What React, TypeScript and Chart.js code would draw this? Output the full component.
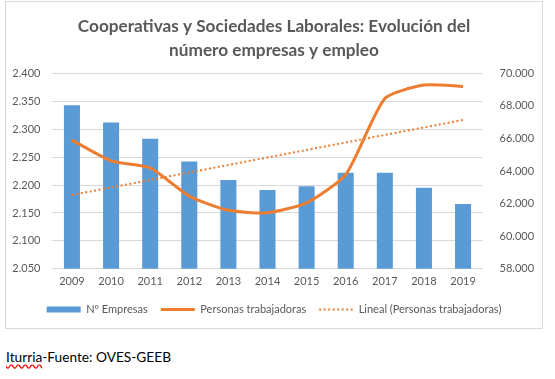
import React, { useEffect, useRef } from "react";
import { Chart, registerables } from "chart.js";

Chart.register(...registerables);

const years = ["2009", "2010", "2011", "2012", "2013", "2014", "2015", "2016", "2017", "2018", "2019"];
const empresas = [2343, 2312, 2283, 2242, 2209, 2191, 2198, 2222, 2222, 2195, 2166];
const personas = [65900, 64630, 64195, 62460, 61590, 61445, 62050, 63780, 68455, 69280, 69200];
// Excel linear trendline endpoints
const tendencia = [62530, null, null, null, null, null, null, null, null, null, 67140];

const titleLines = ["Cooperativas y Sociedades Laborales: Evolución del", "número empresas y empleo"];
const seriesNames = ["Nº Empresas", "Personas trabajadoras", "Lineal (Personas trabajadoras)"];

const BLUE = "#5B9BD5";
const ORANGE = "#ED7D31";
const TEXT = "#595959";
const GRID = "#D9D9D9";

const fmt = (v: number) => {
  const s = Math.round(v).toString();
  return s.replace(/\B(?=(\d{3})+(?!\d))/g, ".");
};

export default function App() {
  const ref = useRef<HTMLCanvasElement>(null);
  useEffect(() => {
    document.body.style.margin = "0";
    const ctx = ref.current!;
    const chart = new Chart(ctx, {
      type: "bar",
      data: {
        labels: years,
        datasets: [
          {
            type: "bar",
            label: seriesNames[0],
            data: empresas,
            backgroundColor: BLUE,
            yAxisID: "y",
            barPercentage: 0.41,
            categoryPercentage: 1,
            order: 3,
          },
          {
            type: "line",
            label: seriesNames[1],
            data: personas,
            borderColor: ORANGE,
            backgroundColor: ORANGE,
            borderWidth: 3,
            pointRadius: 0,
            tension: 0.2,
            yAxisID: "y1",
            order: 1,
          },
          {
            type: "line",
            label: seriesNames[2],
            data: tendencia as any,
            borderColor: ORANGE,
            backgroundColor: ORANGE,
            borderWidth: 2,
            borderDash: [2, 2.5],
            pointRadius: 0,
            spanGaps: true,
            yAxisID: "y1",
            order: 2,
          },
        ],
      },
      options: {
        animation: false,
        responsive: false,
        maintainAspectRatio: false,
        layout: { padding: { left: 0, right: 0, top: 0, bottom: 3 } },
        plugins: {
          title: {
            display: true,
            text: titleLines,
            color: TEXT,
            font: { family: "Lato", size: 17.2, weight: "bold", lineHeight: 1.42 },
            padding: { top: 11.8, bottom: 10.7 },
          },
          legend: {
            position: "bottom",
            labels: {
              color: TEXT,
              font: { family: "Lato", size: 11 },
              usePointStyle: true,
              pointStyleWidth: 34,
              boxHeight: 6,
              padding: 13,
              generateLabels: () => [
                { text: seriesNames[0], fillStyle: BLUE, strokeStyle: BLUE, lineWidth: 0, pointStyle: "rect", fontColor: TEXT, datasetIndex: 0 },
                { text: seriesNames[1], fillStyle: ORANGE, strokeStyle: ORANGE, lineWidth: 3, pointStyle: "line", fontColor: TEXT, datasetIndex: 1 },
                { text: seriesNames[2], fillStyle: ORANGE, strokeStyle: ORANGE, lineWidth: 2, lineDash: [2, 2.5], pointStyle: "line", fontColor: TEXT, datasetIndex: 2 },
              ] as any,
            },
          },
          tooltip: { enabled: false },
        },
        scales: {
          x: {
            grid: { display: false, drawTicks: false },
            border: { display: true, color: GRID, width: 1 },
            ticks: { color: TEXT, font: { family: "Lato", size: 11 }, padding: 6, maxRotation: 0 },
            afterFit: (s: any) => { s.height = 22.2; },
          },
          y: {
            position: "left",
            min: 2050,
            max: 2400,
            grid: { color: GRID, drawTicks: false },
            border: { display: false },
            ticks: { stepSize: 50, color: TEXT, font: { family: "Lato", size: 11 }, padding: 12, callback: (v: any) => fmt(Number(v)) },
            afterFit: (s: any) => { s.width = 46.4; },
          },
          y1: {
            position: "right",
            min: 58000,
            max: 70000,
            grid: { display: false, drawTicks: false },
            border: { display: false },
            ticks: { stepSize: 2000, color: TEXT, font: { family: "Lato", size: 11 }, padding: 17, callback: (v: any) => fmt(Number(v)) },
            afterFit: (s: any) => { s.width = 59.4; },
          },
        },
      },
    });
    return () => chart.destroy();
  }, []);

  return (
    <div style={{ position: "relative", width: 555, height: 379, background: "#fff" }}>
      <div
        style={{
          position: "absolute",
          left: 5,
          top: 1,
          width: 538,
          height: 328,
          boxSizing: "border-box",
          border: `1px solid ${GRID}`,
        }}
      >
        <canvas ref={ref} width={536} height={326} style={{ display: "block", width: 536, height: 326 }} />
      </div>
      <div
        style={{
          position: "absolute",
          left: 6,
          top: 349,
          fontFamily: "Lato, sans-serif",
          fontWeight: 400,
          fontSize: 13.7,
          lineHeight: 1.2,
          color: "#000",
          whiteSpace: "nowrap",
        }}
      >
        <span style={{ textDecoration: "underline wavy red", textDecorationSkipInk: "none", textUnderlineOffset: 2 }}>Iturria</span>
        -Fuente: OVES-GEEB
      </div>
    </div>
  );
}
